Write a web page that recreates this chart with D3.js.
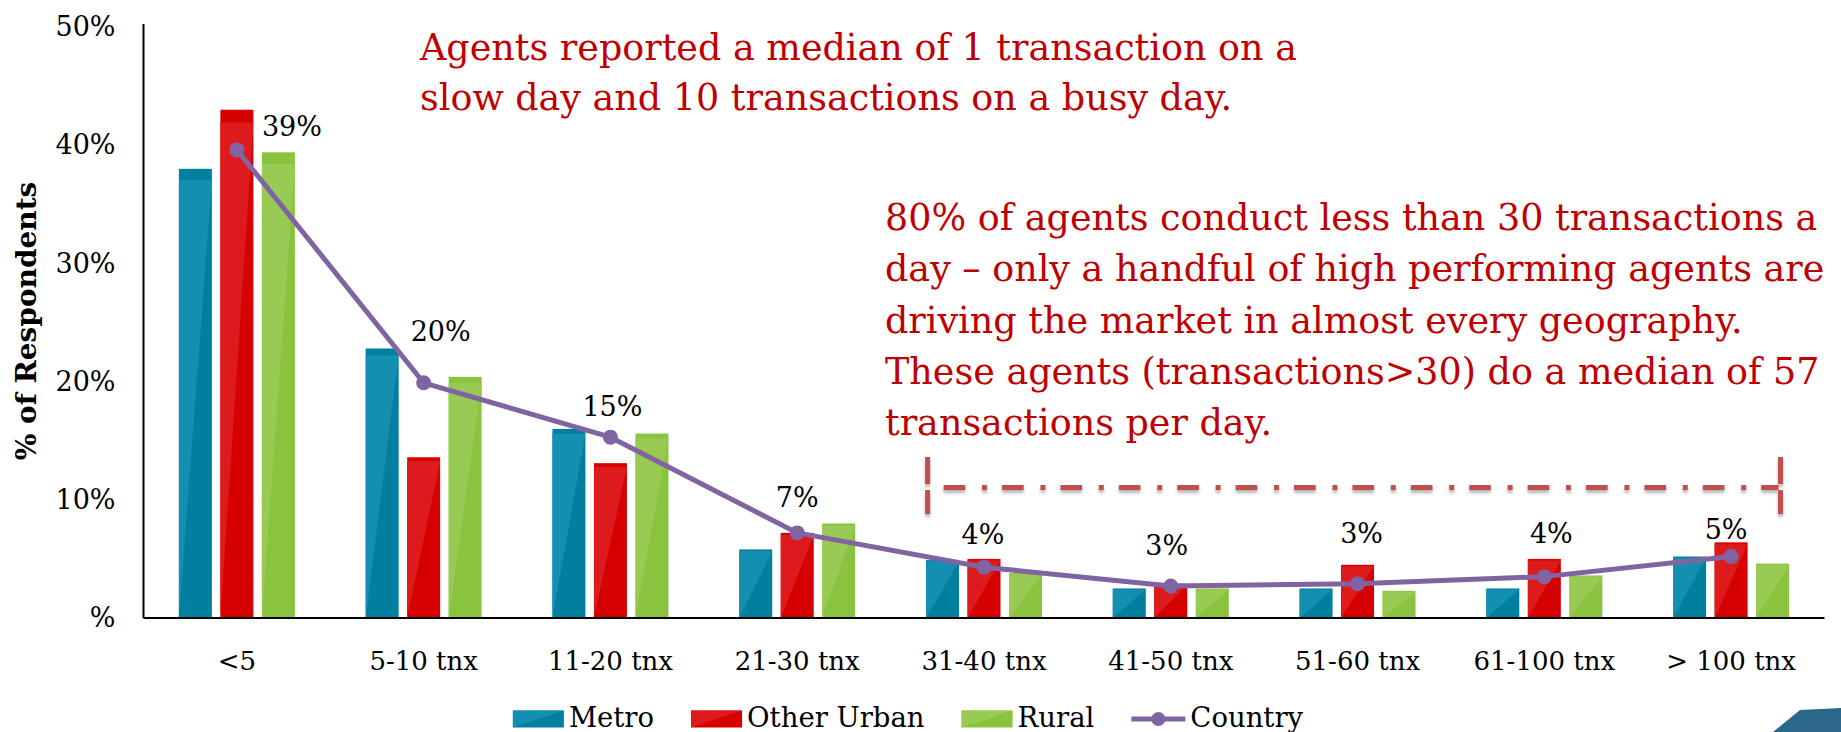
<!DOCTYPE html>
<html>
<head>
<meta charset="utf-8">
<script src="https://cdnjs.cloudflare.com/ajax/libs/d3/7.8.5/d3.min.js"></script>
<style>
  html, body { margin: 0; padding: 0; background: #ffffff; }
  svg { display: block; }
  text { font-family: "DejaVu Serif", "Liberation Serif", serif; }
</style>
</head>
<body>
<svg id="chart" width="1841" height="732"></svg>
<script>
// ---------- data ----------
const categories = ["<5", "5-10 tnx", "11-20 tnx", "21-30 tnx", "31-40 tnx", "41-50 tnx", "51-60 tnx", "61-100 tnx", "> 100 tnx"];
const seriesNames = ["Metro", "Other Urban", "Rural"];
const metro      = [38.0, 22.8, 16.0, 5.8, 4.9, 2.5, 2.5, 2.5, 5.2];
const otherUrban = [43.0, 13.6, 13.1, 7.2, 5.0, 2.9, 4.5, 5.0, 6.4];
const rural      = [39.4, 20.4, 15.6, 8.0, 3.8, 2.5, 2.3, 3.6, 4.6];
const country    = [39.6, 19.9, 15.3, 7.2, 4.3, 2.7, 2.9, 3.5, 5.2];
const countryLabels = ["39%", "20%", "15%", "7%", "4%", "3%", "3%", "4%", "5%"];
const yTickValues = [0, 10, 20, 30, 40, 50];
const yTickLabels = ["%", "10%", "20%", "30%", "40%", "50%"];
const yAxisTitle = "% of Respondents";
const note1 = ["Agents reported a median of 1 transaction on a", "slow day and 10 transactions on a busy day."];
const note2 = ["80% of agents conduct less than 30 transactions a",
               "day \u2013 only a handful of high performing agents are",
               "driving the market in almost every geography.",
               "These agents (transactions>30) do a median of 57",
               "transactions per day."];
const legendNames = ["Metro", "Other Urban", "Rural", "Country"];

// ---------- styles / layout (not data) ----------
const seriesValues = [metro, otherUrban, rural];
const palette = [
  { light: "#1390B1", dark: "#007F9E" },
  { light: "#DD1B1D", dark: "#D70000" },
  { light: "#99CA54", dark: "#8AC43F" }
];
const lineColor = "#8064A2";
const noteColor = "#C00000";
const bracketColor = "#C0504D";
const labelOffsets = [[55,-23],[17,-51],[2,-31],[0,-35],[-1,-33],[-4,-41],[4,-50],[7,-43],[-5,-27]];

const svg = d3.select("#chart");

const plotLeft = 143.5, plotRight = 1824.5, plotBottom = 618, plotTop = 27;

const x = d3.scaleBand().domain(categories).range([plotLeft, plotRight]).padding(0);
const bw = x.bandwidth();
const xSub = d3.scaleBand().domain(seriesNames).range([bw / 2 - 58, bw / 2 + 58]).paddingInner(0.205).paddingOuter(0);
const y = d3.scaleLinear().domain([0, 50]).range([plotBottom, plotTop]);

// drop shadow for bracket
const defs = svg.append("defs");
const f = defs.append("filter").attr("id", "shadow").attr("x", "-10%").attr("y", "-50%").attr("width", "120%").attr("height", "200%");
f.append("feDropShadow").attr("dx", 0).attr("dy", 3).attr("stdDeviation", 1.8).attr("flood-color", "#777").attr("flood-opacity", 0.55);

// ---------- bars ----------
const barG = svg.append("g");
categories.forEach((cat, i) => {
  seriesNames.forEach((s, si) => {
    const v = seriesValues[si][i];
    const x0 = x(cat) + xSub(s);
    const w = xSub.bandwidth();
    const top = y(v), bot = y(0);
    const h = bot - top;
    const strip = Math.max(1, h * 0.025);
    barG.append("rect").attr("x", x0).attr("y", top).attr("width", w).attr("height", h)
      .attr("fill", palette[si].dark);
    barG.append("path")
      .attr("d", `M${x0},${top + strip}L${x0 + w},${top + strip}L${x0},${bot}Z`)
      .attr("fill", palette[si].light);
  });
});

// ---------- axes ----------
const yAxis = d3.axisLeft(y).tickValues(yTickValues).tickFormat((d, i) => yTickLabels[i]).tickSize(0).tickPadding(28);
const yg = svg.append("g").attr("transform", `translate(${plotLeft},0)`).call(yAxis);
yg.select(".domain").remove();
yg.selectAll("text").attr("font-size", 27).attr("fill", "#000").attr("font-family", "DejaVu Serif");

svg.append("line").attr("x1", plotLeft).attr("x2", plotLeft).attr("y1", plotTop - 3).attr("y2", plotBottom)
  .attr("stroke", "#000").attr("stroke-width", 2);

const xAxis = d3.axisBottom(x).tickSize(0).tickPadding(34);
const xg = svg.append("g").attr("transform", `translate(0,${plotBottom})`).call(xAxis);
xg.select(".domain").remove();
xg.selectAll("text").attr("font-size", 26).attr("fill", "#000").attr("font-family", "DejaVu Serif");

svg.append("line").attr("x1", plotLeft).attr("x2", plotRight).attr("y1", plotBottom).attr("y2", plotBottom)
  .attr("stroke", "#000").attr("stroke-width", 2);

// y axis title
svg.append("text")
  .attr("transform", `translate(36,321) rotate(-90)`)
  .attr("text-anchor", "middle")
  .attr("font-size", 28).attr("font-weight", "bold").attr("fill", "#000")
  .text(yAxisTitle);

// ---------- country line ----------
const cx = (d, i) => x(categories[i]) + bw / 2;
const line = d3.line().x((d, i) => cx(d, i)).y(d => y(d));
svg.append("path").datum(country).attr("d", line)
  .attr("fill", "none").attr("stroke", lineColor).attr("stroke-width", 5).attr("stroke-linejoin", "round");
svg.selectAll("circle.pt").data(country).enter().append("circle")
  .attr("class", "pt").attr("cx", cx).attr("cy", d => y(d)).attr("r", 7.5).attr("fill", lineColor);

svg.selectAll("text.lbl").data(country).enter().append("text")
  .attr("class", "lbl")
  .attr("x", (d, i) => cx(d, i) + labelOffsets[i][0])
  .attr("y", (d, i) => y(d) + labelOffsets[i][1])
  .attr("text-anchor", "middle").attr("dominant-baseline", "central")
  .attr("font-size", 27).attr("fill", "#000")
  .text((d, i) => countryLabels[i]);

// ---------- bracket ----------
const bx0 = x(categories[4]) + 37, bx1 = x(categories[8]) + bw - 44;
const by = 487.5, byTop = 457, byBot = 514;
const br = svg.append("g").attr("filter", "url(#shadow)").attr("stroke", bracketColor).attr("stroke-width", 5).attr("fill", "none");
br.append("line").attr("x1", bx0 + 16).attr("x2", bx1 - 2).attr("y1", by).attr("y2", by)
  .attr("stroke-dasharray", "21.7,16.7,5,15");
br.append("line").attr("x1", bx0).attr("x2", bx0).attr("y1", byTop).attr("y2", byBot).attr("stroke-dasharray", "27,6,24");
br.append("line").attr("x1", bx1).attr("x2", bx1).attr("y1", byTop).attr("y2", byBot).attr("stroke-dasharray", "27,6,24");

// ---------- annotations ----------
const n1 = svg.append("text").attr("x", 420).attr("y", 60).attr("font-size", 36.5).attr("fill", noteColor);
note1.forEach((t, i) => n1.append("tspan").attr("x", 420).attr("y", 60 + i * 50).text(t));
const n2 = svg.append("text").attr("font-size", 36.5).attr("fill", noteColor);
note2.forEach((t, i) => n2.append("tspan").attr("x", 885).attr("y", 230 + i * 51.3).text(t));

// ---------- legend ----------
const lg = svg.append("g");
const sw = 51, sh = 17, swTop = 710.5, lgTextY = 727;
let lx = 0;
legendNames.forEach((name, i) => {
  const g = lg.append("g").attr("transform", `translate(${lx},0)`);
  if (i < 3) {
    g.append("rect").attr("x", 0).attr("y", swTop).attr("width", sw).attr("height", sh).attr("fill", palette[i].dark);
    g.append("path").attr("d", `M0,${swTop}L${sw},${swTop}L0,${swTop + sh}Z`).attr("fill", palette[i].light);
  } else {
    g.append("line").attr("x1", 0).attr("x2", 54).attr("y1", swTop + sh / 2).attr("y2", swTop + sh / 2)
      .attr("stroke", lineColor).attr("stroke-width", 5);
    g.append("circle").attr("cx", 27).attr("cy", swTop + sh / 2).attr("r", 7).attr("fill", lineColor);
  }
  const tx = (i < 3 ? sw : 54) + 5;
  const t = g.append("text").attr("x", tx).attr("y", lgTextY).attr("font-size", 27.5).attr("fill", "#000").text(name);
  const tw = t.node().getComputedTextLength();
  lx += tx + tw + 37;
});
const lgWidth = lx - 37;
lg.attr("transform", `translate(${908 - lgWidth / 2},0)`);

// ---------- slide decoration (bottom-right corner) ----------
svg.append("path").attr("d", "M1773,732L1800,710L1841,708L1841,732Z").attr("fill", "#2B6789");
</script>
</body>
</html>
